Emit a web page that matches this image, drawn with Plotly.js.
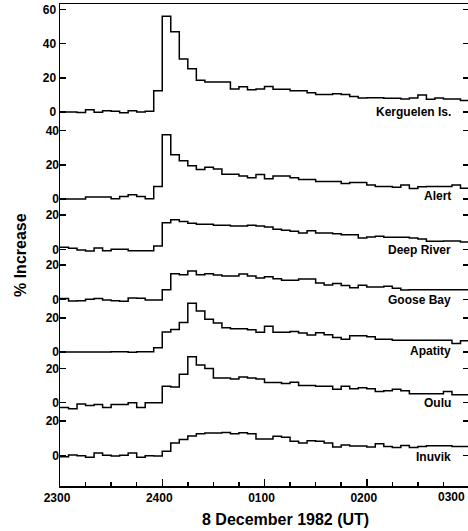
<!DOCTYPE html>
<html>
<head>
<meta charset="utf-8">
<script src="https://cdn.plot.ly/plotly-3.0.1.min.js"></script>
<style>html,body{margin:0;padding:0;background:#fff;overflow:hidden;width:468px;height:531px;}#chart{width:489px;height:531px;}</style>
</head>
<body>
<div id="chart"></div>
<script>
// Bin edges, minutes after 2300 UT on 7/8 December 1982 (5-minute bins)
const binEdges = [0,5,10,15,20,25,30,35,40,45,50,55,60,65,70,75,80,85,90,95,100,105,110,115,120,
  125,130,135,140,145,150,155,160,165,170,175,180,185,190,195,200,205,210,215,220,225,230,235,240];
const xTickVals = [0, 60, 120, 180, 240];
const xTickText = ['2300', '2400', '0100', '0200', '0300'];

const stations = ['Kerguelen Is.', 'Alert', 'Deep River', 'Goose Bay', 'Apatity', 'Oulu', 'Inuvik'];

// % increase per 5-minute bin
const kerguelen = [0,0,-0.3,1.3,-0.2,0.8,0.4,-0.5,0.8,0,0.4,12.5,56,47,31,25.3,18.6,17.5,17.5,17.5,
  13.5,14.7,13,13.5,14.9,13.3,13.3,12.4,12.4,11.2,10.2,10.2,10.6,10.2,9,8.2,8.4,8.4,8,8,7.6,8.2,10,7.5,8.2,7.6,7.6,6.7];
const alert = [0,0,0,1.2,1.2,1.2,0.2,1.4,2.5,1.4,0.2,7.3,37.6,25.9,22.4,19.4,17.3,18.6,17.5,14.5,
  14.5,13.5,12.5,14.3,11.8,13.5,13.5,12.4,11.4,11.4,10.2,10.2,10.2,9,9.6,9.6,8.2,7.3,7.3,6.9,8.2,6.1,7.1,7.3,7.3,7.3,8.2,6.3];
const deepRiver = [1.2,0.6,-0.4,-1,0.8,-0.8,0,0,-0.8,-0.8,-0.8,1.9,15.5,17.3,16.3,15.3,14.6,14.6,14,14,
  13.6,13.6,14,13.6,13,11.7,11.1,10.5,9.5,10.9,9.5,9.5,9.1,8.5,8.5,6.6,7.2,7.6,7,7,7,6.6,6,4.7,4.7,4.9,4.9,4.3];
const gooseBay = [0.4,-1,-0.8,0,0.4,-0.4,-0.8,-1.2,0.8,0.6,-0.4,-0.4,5.6,15,14.4,16.6,14.4,15,14.2,13.6,
  13.6,14.8,13.6,12.4,13.2,12,11.2,11.2,11.8,11.8,9.6,8.4,9.2,8,6.8,8.2,7.2,7.2,7.6,6.4,5.4,5.6,5.6,5.6,5.6,5.6,5.6,5.6];
const apatity = [0,0,0,0,0,0,0.2,0.2,-0.2,0.2,0.2,2.5,11.7,13.2,17.3,28.5,24,19.2,16.9,14.2,
  13.6,13.6,13,11.5,15.1,11.5,11.5,12,11.1,9.9,11.3,10.1,8.5,7.4,9.5,9.5,8.9,7.4,7.4,6.8,6.8,6.8,6.8,6.8,6.8,6.8,5,6.6];
const oulu = [-2.8,-3.6,-0.8,-1.6,-1,-2.8,-1,-1,0,-2.8,0,0,9.6,9.2,16.6,26.8,22,20,14.4,14.4,
  13.8,15,14.4,13.8,11.8,11.8,11.2,12,10,10,9.6,9.6,7.8,9.6,8.2,8.8,8.2,6.6,7,7.8,7,5.2,5.2,5.2,5.2,6.6,4.6,4.6];
const inuvik = [-0.8,0.2,-0.2,-1.2,1.4,0,-0.4,0,1.4,-1.2,-0.2,-0.4,2.3,7.2,9.3,11.3,12.6,13,13,13.4,
  12.6,13.2,12.6,9.5,9.5,11.1,10.5,8.2,7.2,8.5,8.2,7.2,4.9,6,5.4,5.4,4.9,6.8,5.2,4.5,5.8,4.5,5.2,5.6,5.6,5.6,5.2,5.2];

const series = [kerguelen, alert, deepRiver, gooseBay, apatity, oulu, inuvik];
const yTickSets = [[0,20,40,60],[0,20,40],[0,20],[0,20],[0,20],[0,20],[0,20]];

// ---- layout geometry (pixels) ----
const W = 489, H = 531;              // figure slightly wider than the window; right frame edge falls just outside, as in the original
const M = {l: 60, r: 20, t: 4, b: 45};
const plotW = W - M.l - M.r;
const plotH = H - M.t - M.b;
const pxPerUnit = 1.71;
const zeroPx = [112, 199, 249.3, 299.3, 352, 402.7, 455.3]; // pixel row of each panel's 0 line
const labelShift = [0, 3, -1, -1, 1, 0, -2];
const xLabelRow = 497;               // pixel row of the x tick labels

const fontFam = '"Liberation Sans", Arial, Helvetica, sans-serif';
const bold = {family: fontFam, size: 12, color: '#000', weight: 'bold'};

const traces = series.map((vals, i) => ({
  type: 'scatter', mode: 'lines',
  x: binEdges,
  y: vals.concat([vals[vals.length - 1]]),
  yaxis: i === 0 ? 'y' : 'y' + (i + 1),
  line: {shape: 'hv', color: '#000', width: 1.5},
  hoverinfo: 'skip', showlegend: false
}));

// the last hour label sits at the cropped right edge: it is drawn right-aligned to its tick instead
const lastIdx = xTickText.length - 1;
const xTickTextAxis = xTickText.map((t, i) => i === lastIdx ? '' : t);

const layout = {
  width: W, height: H,
  margin: M,
  paper_bgcolor: '#fff', plot_bgcolor: '#fff',
  showlegend: false,
  font: bold,
  xaxis: {
    range: [0, 240],
    tickvals: xTickVals, ticktext: xTickTextAxis,
    ticks: 'inside', ticklen: 7, tickwidth: 1.5, tickcolor: '#000',
    minor: {dtick: 15, tick0: 0, ticks: 'inside', ticklen: 4, tickwidth: 1.5, tickcolor: '#000', showgrid: false},
    showline: true, linecolor: '#000', linewidth: 1.5, mirror: true,
    showgrid: false, zeroline: false, automargin: false,
    ticklabelshift: -3,
    tickfont: bold
  },
  annotations: [{
    text: xTickText[lastIdx], xref: 'x', yref: 'paper',
    x: xTickVals[lastIdx], y: -(xLabelRow - M.t - plotH) / plotH,
    xanchor: 'right', yanchor: 'middle', xshift: -2, showarrow: false, font: bold
  }]
};

series.forEach((vals, i) => {
  const yref = i === 0 ? 'y' : 'y' + (i + 1);
  const hi = (zeroPx[i] - M.t) / pxPerUnit;
  const lo = hi - plotH / pxPerUnit;
  const ax = {
    range: [lo, hi],
    tickmode: 'array', tickvals: yTickSets[i], ticktext: yTickSets[i].map(String),
    ticks: 'inside', ticklen: 6, tickwidth: 1.5, tickcolor: '#000',
    mirror: 'ticks',
    showgrid: false, zeroline: false, automargin: false,
    showline: i === 0, linecolor: '#000', linewidth: 1.5,
    tickfont: bold, fixedrange: true
  };
  if (i > 0) { ax.overlaying = 'y'; ax.side = 'left'; }
  layout[i === 0 ? 'yaxis' : 'yaxis' + (i + 1)] = ax;
  layout.annotations.push({
    text: stations[i], xref: 'paper', yref: yref,
    x: (453 - M.l) / plotW, y: 0, xanchor: 'right', yanchor: 'middle',
    yshift: labelShift[i],
    showarrow: false, font: bold
  });
});

layout.annotations.push({
  text: '% Increase', xref: 'paper', yref: 'paper',
  x: (20 - M.l) / plotW, y: 1 - (255 - M.t) / plotH,
  xanchor: 'center', yanchor: 'middle', textangle: -90, showarrow: false,
  font: {family: fontFam, size: 16, color: '#000', weight: 'bold'}
});
layout.annotations.push({
  text: '8 December 1982 (UT)', xref: 'paper', yref: 'paper',
  x: (285 - M.l) / plotW, y: -(519 - M.t - plotH) / plotH,
  xanchor: 'center', yanchor: 'middle', showarrow: false,
  font: {family: fontFam, size: 16, color: '#000', weight: 'bold'}
});

Plotly.newPlot('chart', traces, layout, {displayModeBar: false, staticPlot: true});
</script>
</body>
</html>
